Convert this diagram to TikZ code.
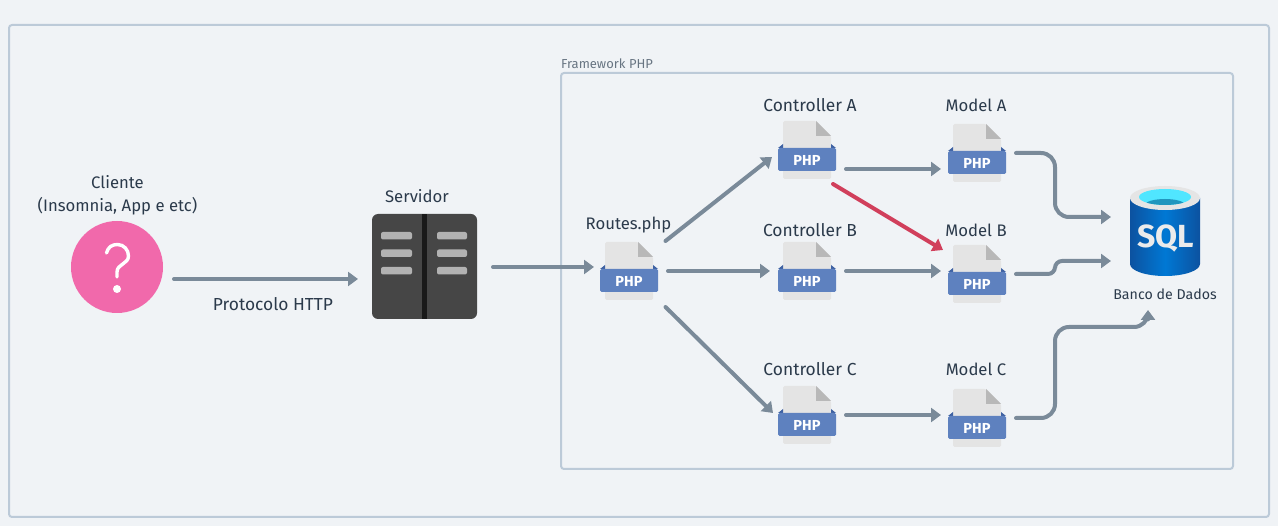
\documentclass[tikz,border=0pt]{standalone}
\usepackage{fontspec}
\setmainfont{Fira Sans}
\usetikzlibrary{arrows.meta}
\definecolor{bgc}{HTML}{F0F3F6}
\definecolor{framec}{HTML}{BCCAD8}
\definecolor{arrowc}{HTML}{7A8A99}
\definecolor{redc}{HTML}{D13F5B}
\definecolor{textc}{HTML}{2B3A4B}
\definecolor{pagec}{HTML}{E4E4E4}
\definecolor{foldc}{HTML}{B8B8B8}
\definecolor{bandc}{HTML}{5E81BF}
\definecolor{bandd}{HTML}{3F62A3}
\definecolor{pinkc}{HTML}{F169AB}
\definecolor{srvc}{HTML}{464646}
\definecolor{dbd}{HTML}{0C52A0}
\definecolor{dbm}{HTML}{0078D4}
\definecolor{dbc}{HTML}{50E6FF}
\definecolor{dbi}{HTML}{2096BE}
\tikzset{
  x=1pt,y=-1pt,
  frame/.style={draw=framec,line width=2pt,rounded corners=3pt},
  lbl/.style={text=textc,font=\fontsize{17.4}{23}\selectfont,align=center,inner sep=0pt},
  lblsm/.style={lbl,font=\fontsize{16.7}{23}\selectfont},
  iconbox/.style={minimum width=58pt,minimum height=58pt,inner sep=0pt,outer sep=0pt},
  conn/.style={draw=arrowc,line width=4pt,line cap=round,-{Triangle[length=10pt,width=14pt]}},
  phpicon/.pic={
    \fill[pagec,rounded corners=1.5pt] (-24,-29) -- (9,-29) -- (24,-14) -- (24,29) -- (-24,29) -- cycle;
    \fill[foldc] (9,-29) -- (24,-14) -- (9,-14) -- cycle;
    \fill[bandd] (-29,-2) -- (-24,-6) -- (-24,-2) -- cycle;
    \fill[bandd] (29,-2) -- (24,-6) -- (24,-2) -- cycle;
    \fill[bandc,rounded corners=1.5pt] (-29,-2) rectangle (29,21);
    \node[text=white,inner sep=0pt,font=\fontsize{14.5}{16}\selectfont\bfseries] at (0,10.5) {PHP};
  }
}
\begin{document}
\begin{tikzpicture}
\useasboundingbox (0,0) rectangle (1278,526);
\fill[bgc] (0,0) rectangle (1278,526);
\draw[frame] (9,25) rectangle (1269,517);
\draw[frame] (561,73) rectangle (1233,469);
\node[anchor=west,text=arrowc!85!black,inner sep=0pt,font=\fontsize{13}{15}\selectfont] (fw) at (561,64) {Framework PHP};

% client
\node[circle,fill=pinkc,minimum size=92pt,inner sep=0pt,outer sep=0pt] (client) at (117,267) {};
\draw[white,line width=3.4pt,line cap=round] (106.5,253) .. controls (108,247) and (112,244.5) .. (117.5,244.5)
  .. controls (124,244.5) and (128.5,250) .. (128.5,256)
  .. controls (128.5,264) and (117,264) .. (117,272) -- (117,277);
\fill[white] (117,289) circle (4);
\node[lblsm] (clientl) at (117.5,195) {Cliente\\(Insomnia, App e etc)};

% server
\node[minimum width=105pt,minimum height=105pt,inner sep=0pt,outer sep=0pt,fill=srvc,rounded corners=6pt] (srv) at (424.5,266.5) {};
\fill[black!90] (422,214) rectangle (427,319);
\foreach \yy in {232,249.5,267}{
  \fill[black!30,rounded corners=2pt] (381,\yy) rectangle (412,\yy+7.5);
  \fill[black!30,rounded corners=2pt] (437,\yy) rectangle (467,\yy+7.5);
}
\node[lblsm] (srvl) at (417,196) {Servidor};

% icons
\node[iconbox] (r) at (629,271) {}; \pic at (r) {phpicon};
\node[iconbox] (ca) at (807,150) {}; \pic at (ca) {phpicon};
\node[iconbox] (cb) at (807,271) {}; \pic at (cb) {phpicon};
\node[iconbox] (cc) at (807,415) {}; \pic at (cc) {phpicon};
\node[iconbox] (ma) at (977,153) {}; \pic at (ma) {phpicon};
\node[iconbox] (mb) at (977,274) {}; \pic at (mb) {phpicon};
\node[iconbox] (mc) at (977,418) {}; \pic at (mc) {phpicon};
\node[lblsm] (rl) at (628.5,225) {Routes.php};
\node[lbl] (cal) at (810,105) {Controller A};
\node[lbl] (cbl) at (810,230) {Controller B};
\node[lbl] (ccl) at (810,369) {Controller C};
\node[lblsm] (mal) at (976,105) {Model A};
\node[lblsm] (mbl) at (976,230) {Model B};
\node[lblsm] (mcl) at (976,369) {Model C};

% database
\node[minimum width=70pt,minimum height=90pt,inner sep=0pt,outer sep=0pt] (db) at (1165,231) {};
\shade[left color=dbd,right color=dbd,middle color=dbm]
  (1130,198) -- (1130,264) arc[start angle=180,end angle=0,x radius=35,y radius=12] -- (1200,198) -- cycle;
\fill[black!10] (1165,198) ellipse[x radius=35,y radius=12];
\fill[dbc] (1165,197) ellipse[x radius=26,y radius=8];
\begin{scope}
\clip (1165,197) ellipse[x radius=26,y radius=8];
\fill[dbi] (1165,205) ellipse[x radius=20,y radius=6];
\end{scope}
\node[text=black!8,inner sep=0pt,font=\fontsize{32}{34}\selectfont\bfseries] (sql) at (1166,238) {SQL};
\node[lbl,font=\fontsize{14.2}{16}\selectfont] (dbl) at (1165,294) {Banco de Dados};

% connectors
\coordinate (c1) at (174,279);
\coordinate (s1) at (358,279);
\draw[conn] (c1) -- (s1);
\node[lbl] (http) at (273,304) {Protocolo HTTP};
\coordinate (s2) at (493,267);
\coordinate (r0) at (594,267);
\draw[conn] (s2) -- (r0);
\coordinate (r1) at (665.5,241);
\coordinate (ca0) at (772,157);
\draw[conn] (r1) -- (ca0);
\draw[conn,shorten <=10pt,shorten >=8pt] (r.east) -- (cb.west);
\coordinate (r3) at (665.5,307);
\coordinate (cc0) at (773,413);
\draw[conn] (r3) -- (cc0);
\coordinate (ca1) at (846,169);
\coordinate (ma0) at (941,169);
\draw[conn] (ca1) -- (ma0);
\draw[conn,shorten <=10pt,shorten >=7pt] (cb.east) -- (mb.west |- cb.east);
\draw[conn,shorten <=10pt,shorten >=7pt] (cc.east) -- (mc.west |- cc.east);
\coordinate (ca2) at (833,184);
\coordinate (mb0) at (943,250);
\draw[conn,draw=redc] (ca2) -- (mb0);
\coordinate (ma1) at (1016,153);
\coordinate (db1) at (1111,217);
\draw[conn,rounded corners=14pt] (ma1) -- (1055,153) -- (1055,217) -- (db1);
\coordinate (mb1) at (1016,274);
\coordinate (db2) at (1111,261);
\draw[conn,rounded corners=7pt] (mb1) -- (1055,274) -- (1055,261) -- (db2);
\coordinate (mc1) at (1016,418);
\coordinate (db3) at (1148,310);
\draw[conn,rounded corners=14pt] (mc1) -- (1055,418) -- (1055,327) -- (1148,327) -- (db3);
\end{tikzpicture}
\end{document}
